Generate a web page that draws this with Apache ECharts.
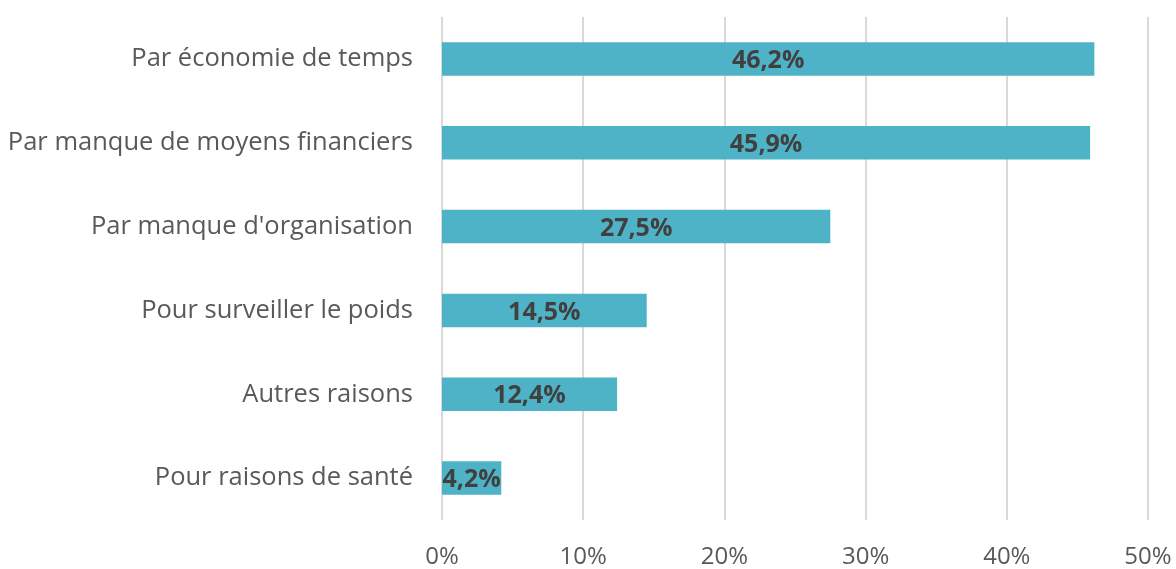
<!DOCTYPE html>
<html>
<head>
<meta charset="utf-8">
<script src="https://cdn.jsdelivr.net/npm/echarts@6/dist/echarts.min.js"></script>
<style>
  html, body { margin: 0; padding: 0; background: #fff; }
  #chart { width: 1176px; height: 569px; }
</style>
</head>
<body>
<div id="chart"></div>
<script>
// categories, top to bottom as in the picture
var categories = [
  "Par économie de temps",
  "Par manque de moyens financiers",
  "Par manque d'organisation",
  "Pour surveiller le poids",
  "Autres raisons",
  "Pour raisons de santé"
];
var values = [46.2, 45.9, 27.5, 14.5, 12.4, 4.2];
var xTicks = [0, 10, 20, 30, 40, 50];

var chart = echarts.init(document.getElementById("chart"));
var font = "'Open Sans', 'DejaVu Sans', sans-serif";

var option = {
  animation: false,
  grid: {
    left: 442,
    right: 28,
    top: 17,
    bottom: 49,
    containLabel: false
  },
  xAxis: {
    type: "value",
    min: xTicks[0],
    max: xTicks[xTicks.length - 1],
    interval: 10,
    axisLine: { show: false },
    axisTick: { show: false },
    splitLine: { show: true, lineStyle: { color: "#d9d9d9", width: 2 } },
    axisLabel: {
      formatter: "{value}%",
      color: "#595959",
      fontSize: 24,
      fontFamily: font,
      margin: 25
    }
  },
  yAxis: {
    type: "category",
    data: categories,
    inverse: true,
    axisLine: { show: false },
    axisTick: { show: false },
    axisLabel: {
      color: "#595959",
      fontSize: 25.5,
      fontFamily: font,
      margin: 29
    }
  },
  series: [
    {
      type: "bar",
      data: values,
      barCategoryGap: "60%",
      itemStyle: { color: "#4fb3c8" },
      label: {
        show: true,
        position: "inside",
        offset: [0, 2],
        formatter: function (p) {
          return p.value.toFixed(1).replace(".", ",") + "%";
        },
        color: "#404040",
        fontWeight: "bold",
        fontSize: 25,
        fontFamily: font
      }
    }
  ]
};
chart.setOption(option);
</script>
</body>
</html>
